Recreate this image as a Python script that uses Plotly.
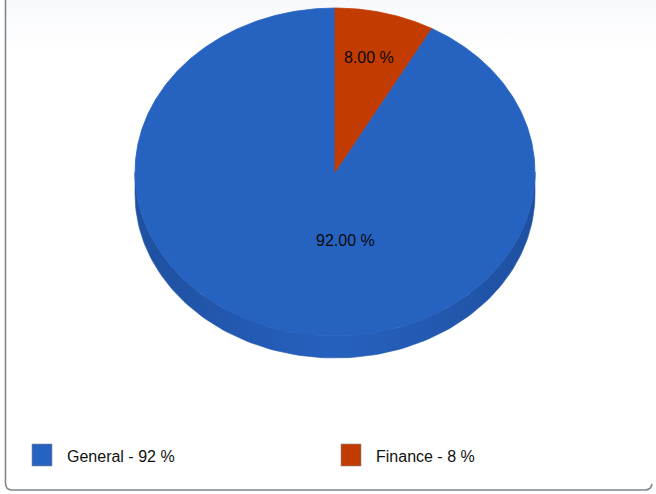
import numpy as np
import plotly.graph_objects as go

# ---- data ----
categories = ["General", "Finance"]
values = [92, 8]
colors = ["#2662C0", "#C23B00"]
side_colors = ["#2358AB", "#9E3000"]

# ---- geometry / style constants ----
W, H = 656, 494
cx, cy = 335, 172
rx, ry = 200, 164
depth = 22
label_pos = [(345, 240), (369, 57)]
FONT = "Liberation Sans"

total = float(sum(values))
fracs = [v / total for v in values]

# angles measured clockwise from 12 o'clock; slices laid out counter-clockwise
starts, ends = [], []
acc = 0.0
for f in fracs:
    a0 = -acc * 360
    a1 = -(acc + f) * 360
    starts.append(a1)
    ends.append(a0)
    acc += f


def ell(t_deg, dy=0.0):
    t = np.radians(t_deg)
    return cx + rx * np.sin(t), cy - ry * np.cos(t) + dy


fig = go.Figure()

# subtle top background gradient
fig.add_trace(go.Scatter(
    x=[6, W, W, 6, 6], y=[0, 0, 50, 50, 0], mode="lines", fill="toself",
    line=dict(width=0), fillgradient=dict(type="vertical",
                                          colorscale=[[0, "#ffffff"], [1, "#f8f9fd"]]),
    hoverinfo="skip", showlegend=False))

# side walls (visible front half: 90..270 deg)
for i, (a0, a1) in enumerate(zip(starts, ends)):
    for shift in (0, 360, -360):
        lo = max(a0 + shift, 90)
        hi = min(a1 + shift, 270)
        if hi > lo:
            ts = np.linspace(lo, hi, 120)
            xt, yt = ell(ts)
            xb, yb = ell(ts[::-1], depth)
            xs = np.concatenate([xt, xb, xt[:1]])
            ys = np.concatenate([yt, yb, yt[:1]])
            fig.add_trace(go.Scatter(
                x=xs, y=ys, mode="lines", fill="toself",
                line=dict(width=0.6, color=side_colors[i]),
                fillgradient=dict(type="horizontal", colorscale=[
                    [0, "#1F50A0"], [0.5, "#2661BF"], [1, "#1F50A0"]]) if i == 0 else None,
                fillcolor=side_colors[i],
                hoverinfo="skip", showlegend=False))

# top faces
for i, (a0, a1) in enumerate(zip(starts, ends)):
    ts = np.linspace(a0, a1, max(8, int((a1 - a0) * 2)))
    xa, ya = ell(ts)
    xs = np.concatenate([[cx], xa, [cx]])
    ys = np.concatenate([[cy], ya, [cy]])
    fig.add_trace(go.Scatter(
        x=xs, y=ys, mode="lines", fill="toself",
        line=dict(width=0.8, color=colors[i]), fillcolor=colors[i],
        name=categories[i], hoverinfo="skip", showlegend=False))

# slice labels
for i, v in enumerate(values):
    fig.add_annotation(x=label_pos[i][0], y=label_pos[i][1], text=f"{fracs[i]*100:.2f} %",
                       showarrow=False, font=dict(family=FONT, size=16, color="#0a0a0a"),
                       xref="x", yref="y")

# legend (manual)
legend_x = [32, 341]
for i, c in enumerate(categories):
    x0 = legend_x[i]
    fig.add_shape(type="rect", xref="x", yref="y", x0=x0, x1=x0 + 20, y0=444, y1=466,
                  fillcolor=colors[i], line=dict(color="#8a8a8a", width=0.6))
    fig.add_annotation(x=x0 + 33, y=456, xanchor="left", text=f"{c} - {values[i]} %",
                       showarrow=False, font=dict(family=FONT, size=16, color="#111111"),
                       xref="x", yref="y")

# frame
fig.add_shape(type="path", xref="x", yref="y",
              path="M 5.5 -2 L 5.5 483 Q 5.5 490 12 490 L 645 490 Q 651 490 652 484",
              line=dict(color="#7f8890", width=1.6))

fig.update_layout(
    width=W, height=H, autosize=False,
    margin=dict(l=0, r=0, t=0, b=0),
    paper_bgcolor="#ffffff", plot_bgcolor="#ffffff",
    xaxis=dict(range=[0, W], visible=False, fixedrange=True),
    yaxis=dict(range=[H, 0], visible=False, fixedrange=True),
    showlegend=False,
)

fig.write_html("out.html")
